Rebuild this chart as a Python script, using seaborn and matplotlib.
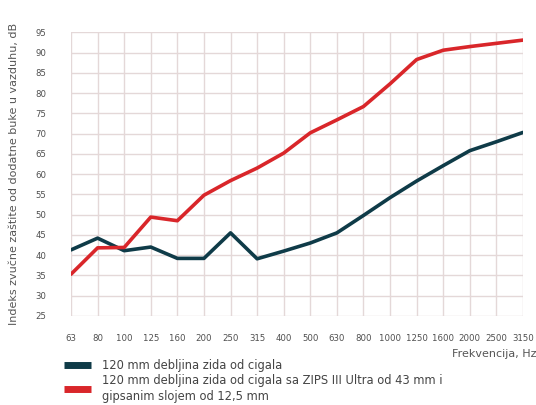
import matplotlib
import matplotlib.pyplot as plt
import pandas as pd
import seaborn as sns

matplotlib.use("Agg")

frequencies = ["63", "80", "100", "125", "160", "200", "250", "315", "400", "500",
               "630", "800", "1000", "1250", "1600", "2000", "2500", "3150"]
brick_wall = [41.3, 44.2, 41.1, 42.0, 39.2, 39.2, 45.5, 39.1, 41.0, 43.0,
              45.5, 49.8, 54.2, 58.3, 62.1, 65.8, 68.0, 70.3]
brick_wall_zips = [35.3, 41.8, 41.9, 49.4, 48.5, 54.8, 58.4, 61.5, 65.2, 70.2,
                   73.4, 76.7, 82.3, 88.3, 90.6, 91.5, 92.3, 93.1]
series_names = [
    "120 mm debljina zida od cigala",
    "120 mm debljina zida od cigala sa ZIPS III Ultra od 43 mm i\ngipsanim slojem od 12,5 mm",
]
y_ticks = list(range(25, 100, 5))

df = pd.DataFrame({
    "pos": list(range(len(frequencies))) * 2,
    "value": brick_wall + brick_wall_zips,
    "series": [series_names[0]] * len(frequencies) + [series_names[1]] * len(frequencies),
})

sns.set_style("white")
plt.rcParams["font.family"] = ["DejaVu Sans"]

fig = plt.figure(figsize=(5.36, 4.05), dpi=100)
ax = fig.add_axes([0.1325, 0.22, 0.8432, 0.70])

sns.lineplot(
    data=df, x="pos", y="value", hue="series", ax=ax,
    palette=["#0f3b48", "#d9262a"], linewidth=2.6, legend=True,
)

ax.set_xlim(0, len(frequencies) - 1)
ax.set_ylim(25, 95)
ax.set_xticks(range(len(frequencies)))
ax.set_xticklabels(frequencies, fontstretch="condensed")
ax.set_yticks(y_ticks)
ax.set_yticklabels(y_ticks, fontstretch="condensed")
ax.grid(True, color="#e4d8d8", linewidth=1.0)
ax.set_axisbelow(True)
for side in ax.spines.values():
    side.set_visible(False)
ax.tick_params(axis="both", length=0, labelsize=6.8, colors="#4f4f4f")
ax.tick_params(axis="x", pad=13)
ax.tick_params(axis="y", pad=18)

ax.set_xlabel("")
ax.set_ylabel("")
fig.text(0.027, 0.57, "Indeks zvučne zaštite od dodatne buke u vazduhu, dB",
         rotation=90, ha="center", va="center", fontsize=8, color="#555555")
fig.text(1.0, 0.126, "Frekvencija, Hz", ha="right", va="center",
         fontsize=8, color="#555555")

handles, labels = ax.get_legend_handles_labels()
ax.legend_.remove()
for h in handles:
    h.set_linewidth(5)
    h.set_solid_capstyle("butt")
leg = fig.legend(handles, labels, loc="upper left", bbox_to_anchor=(0.105, 0.134),
                 frameon=False, handlelength=2.3, handletextpad=1.0,
                 labelspacing=0.15, borderpad=0.2, prop={"size": 8.3})
for t in leg.get_texts():
    t.set_color("#444444")
    t.set_linespacing(1.3)

fig.savefig("out.png", dpi=100)
